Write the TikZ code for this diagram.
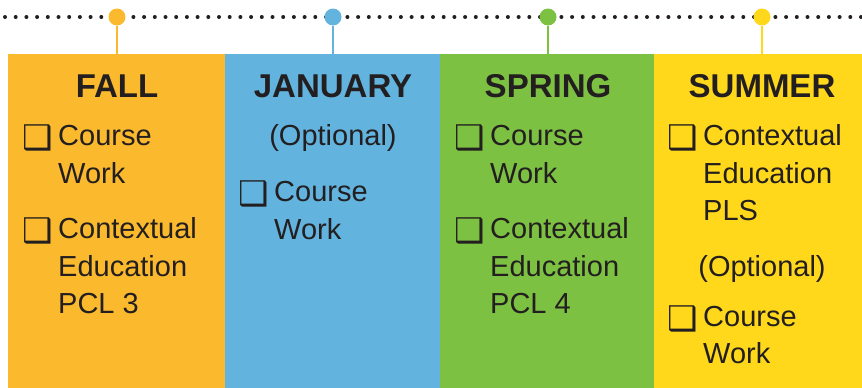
\documentclass[tikz,border=0pt]{standalone}
\usepackage{fontspec}
\setmainfont{Liberation Sans}
\newfontfamily\symfont{DejaVu Sans}
\definecolor{fallc}{HTML}{FBBA2E}
\definecolor{janc}{HTML}{62B4DF}
\definecolor{sprc}{HTML}{7DC142}
\definecolor{sumc}{HTML}{FFD81C}
\definecolor{inkc}{HTML}{231F20}
\begin{document}
\begin{tikzpicture}[x=1pt,y=-1pt,
  title/.style={anchor=base,inner sep=0pt,text=inkc,font=\fontsize{33}{33}\selectfont\bfseries},
  item/.style={anchor=base west,inner sep=0pt,text=inkc,font=\fontsize{29}{29}\selectfont},
  opt/.style={anchor=base,inner sep=0pt,text=inkc,font=\fontsize{29}{29}\selectfont},
  chk/.style={anchor=base west,inner sep=0pt,text=inkc,font=\symfont\fontsize{34}{34}\selectfont},
  stem/.style={line width=2pt},
  knob/.style={circle,inner sep=0pt,minimum size=17pt}]
\useasboundingbox (0,0) rectangle (862,388);
% columns
\fill[fallc] (8,54) rectangle (225,388);
\fill[janc] (225,54) rectangle (440,388);
\fill[sprc] (440,54) rectangle (654,388);
\fill[sumc] (654,54) rectangle (862,388);
% dotted timeline
\foreach \i in {0,...,80} {\fill[inkc] (5+10.7*\i,17) circle (2pt);}
% knobs and stems
\coordinate (t1) at (117,54); \coordinate (t2) at (333,54);
\coordinate (t3) at (548,54); \coordinate (t4) at (762,54);
\node[knob,fill=fallc] (k1) at (117,17) {};
\node[knob,fill=janc] (k2) at (333,17) {};
\node[knob,fill=sprc] (k3) at (548,17) {};
\node[knob,fill=sumc] (k4) at (762,17) {};
\draw[stem,fallc] (k1) -- (t1);
\draw[stem,janc] (k2) -- (t2);
\draw[stem,sprc] (k3) -- (t3);
\draw[stem,sumc] (k4) -- (t4);
% FALL
\node[title] (fT) at (117,97) {FALL};
\node[chk] (fc1) at (22,149) {❑};
\node[item] (f1a) at (58,145) {Course};
\node[item] (f1b) at (58,183) {Work};
\node[chk] (fc2) at (22,242) {❑};
\node[item] (f2a) at (58,238) {Contextual};
\node[item] (f2b) at (58,276) {Education};
\node[item] (f2c) at (58,313) {PCL 3};
% JANUARY
\node[title] (jT) at (333,97) {JANUARY};
\node[opt] (jO) at (333,145) {(Optional)};
\node[chk] (jc1) at (238,205) {❑};
\node[item] (j1a) at (274,201) {Course};
\node[item] (j1b) at (274,239) {Work};
% SPRING
\node[title] (sT) at (548,97) {SPRING};
\node[chk] (sc1) at (454,149) {❑};
\node[item] (s1a) at (490,145) {Course};
\node[item] (s1b) at (490,183) {Work};
\node[chk] (sc2) at (454,242) {❑};
\node[item] (s2a) at (490,238) {Contextual};
\node[item] (s2b) at (490,276) {Education};
\node[item] (s2c) at (490,313) {PCL 4};
% SUMMER
\node[title] (uT) at (762,97) {SUMMER};
\node[chk] (uc1) at (667,149) {❑};
\node[item] (u1a) at (703,145) {Contextual};
\node[item] (u1b) at (703,183) {Education};
\node[item] (u1c) at (703,220) {PLS};
\node[opt] (uO) at (762,276) {(Optional)};
\node[chk] (uc2) at (667,330) {❑};
\node[item] (u2a) at (703,326) {Course};
\node[item] (u2b) at (703,363) {Work};
\end{tikzpicture}
\end{document}
